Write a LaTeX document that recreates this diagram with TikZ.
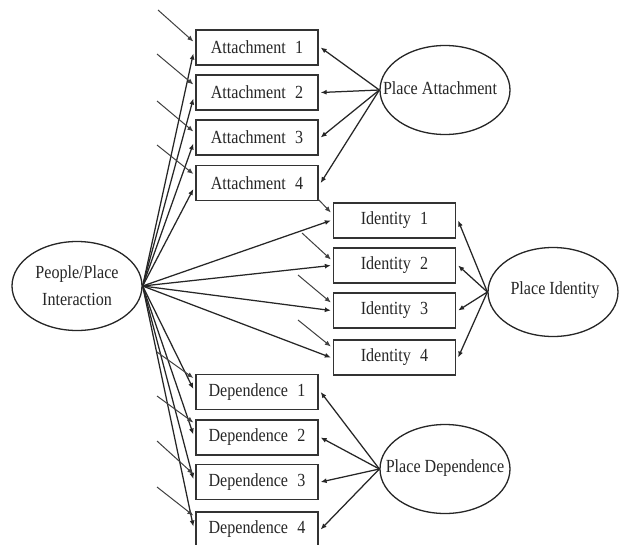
\documentclass[tikz,border=0pt]{standalone}
\usepackage{fontspec}
\setmainfont{Liberation Serif}[FakeStretch=0.87]
\usetikzlibrary{shapes.geometric,arrows.meta,calc}
\begin{document}
\begin{tikzpicture}[x=1pt,y=-1pt,
  item/.style={draw=black!80, line width=1.3pt, minimum width=122pt, minimum height=35pt,
    inner sep=0pt, text=black!85, font=\fontsize{18.5}{20}\selectfont},
  factor/.style={draw=black!85, line width=1.3pt, ellipse, minimum width=130pt,
    minimum height=89pt, inner sep=0pt},
  flabel/.style={font=\fontsize{18.5}{27}\selectfont, text=black!85, align=center, inner sep=0pt},
  tip/.style={-{Latex[length=6pt,width=5pt]}},
  load/.style={draw=black!85, line width=1.25pt, tip},
  err/.style={draw=black!75, line width=1pt, tip}]

\fill[white] (0,0) rectangle (621,544);
\useasboundingbox (0,0) rectangle (621,544);
\clip (0,0) rectangle (621,544);

\newcommand{\gap}{\hspace{0.5em}}

% observed indicators
\node[item] (att1) at (257,47.5)  {Attachment\gap 1};
\node[item] (att2) at (257,92.5)  {Attachment\gap 2};
\node[item] (att3) at (257,137.5) {Attachment\gap 3};
\node[item] (att4) at (257,183)   {Attachment\gap 4};

\node[item] (id1) at (394.5,220.5) {Identity\gap 1};
\node[item] (id2) at (394.5,265.5) {Identity\gap 2};
\node[item] (id3) at (394.5,310.5) {Identity\gap 3};
\node[item] (id4) at (394.5,357.5) {Identity\gap 4};

\node[item] (dep1) at (257,392)   {Dependence\gap 1};
\node[item] (dep2) at (257,437.5) {Dependence\gap 2};
\node[item] (dep3) at (257,482)   {Dependence\gap 3};
\node[item] (dep4) at (257,529.5) {Dependence\gap 4};

% latent factors
\node[factor] (ppi) at (77,286) {};
\node[flabel] (ppiT) at (77,286) {People/Place\\Interaction};
\node[factor] (pa) at (445,90) {};
\node[flabel] (paT) at (440,88) {Place Attachment};
\node[factor] (pi) at (553,292) {};
\node[flabel] (piT) at (555,290) {Place Identity};
\node[factor] (pd) at (445,469) {};
\node[flabel] (pdT) at (445,468) {Place Dependence};

% second-order loadings
\foreach \b in {att1,att2,att3,att4}
  \draw[load] (ppi.east) -- ($(\b.west)+(-2,6)$);
\foreach \b in {id1,id2,id3,id4}
  \draw[load] (ppi.east) -- ($(\b.west)+(-2,0)$);
\foreach \b in {dep1,dep2,dep3,dep4}
  \draw[load] (ppi.east) -- ($(\b.west)+(-2,-3)$);

% first-order loadings
\foreach \b in {att1,att2,att3,att4}
  \draw[load] (pa.west) -- ($(\b.east)+(2,0)$);
\foreach \b in {id1,id2,id3,id4}
  \draw[load] (pi.west) -- ($(\b.east)+(2,0)$);
\foreach \b in {dep1,dep2,dep3,dep4}
  \draw[load] (pd.west) -- ($(\b.east)+(2,0)$);

% error terms
\coordinate (ea1) at (158,10);
\coordinate (ea2) at (157,54);
\coordinate (ea3) at (157,101);
\coordinate (ea4) at (157,145);
\coordinate (ei1) at (318,199);
\coordinate (ei2) at (302,233);
\coordinate (ei3) at (298,275);
\coordinate (ei4) at (298,320);
\coordinate (ed1) at (157,352);
\coordinate (ed2) at (157,396);
\coordinate (ed3) at (157,441);
\coordinate (ed4) at (157,487);

\draw[err] (ea1) -- ($(att1.west)+(-2,-6)$);
\draw[err] (ea2) -- ($(att2.west)+(-2,-8)$);
\draw[err] (ea3) -- ($(att3.west)+(-2,-6)$);
\draw[err] (ea4) -- ($(att4.west)+(-2,-9)$);
\draw[err] (ei1) -- ($(id1.west)+(-2,-8)$);
\draw[err] (ei2) -- ($(id2.west)+(-2,-6)$);
\draw[err] (ei3) -- ($(id3.west)+(-2,-8)$);
\draw[err] (ei4) -- ($(id4.west)+(-2,-11)$);
\draw[err] (ed1) -- ($(dep1.west)+(-2,-14)$);
\draw[err] (ed2) -- ($(dep2.west)+(-2,-15)$);
\draw[err] (ed3) -- ($(dep3.west)+(-2,-8)$);
\draw[err] (ed4) -- ($(dep4.west)+(-2,-14)$);
\end{tikzpicture}
\end{document}
